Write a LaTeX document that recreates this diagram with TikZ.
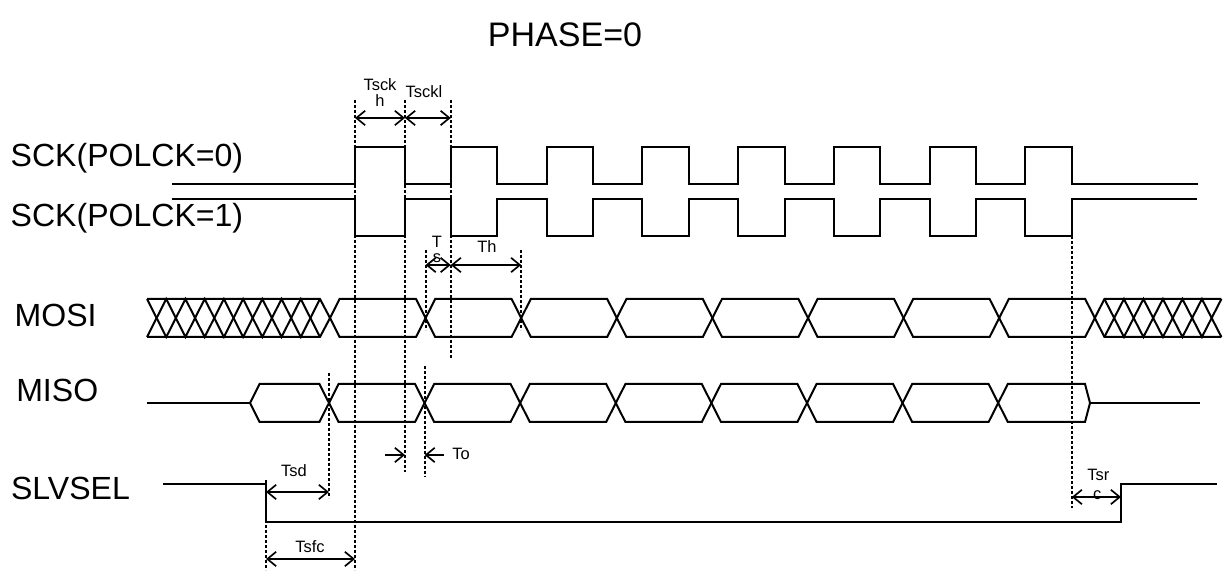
\documentclass[tikz,border=0pt]{standalone}
\usepackage{fontspec}
\setmainfont{Liberation Sans}
\usetikzlibrary{arrows.meta}
\tikzset{
  tbarb/.tip={Straight Barb[length=0.22cm,width=0.36cm]},
  signal/.style={line width=0.05cm},
  guide/.style={line width=0.045cm, dash pattern=on 0.075cm off 0.05cm},
  dimline/.style={line width=0.042cm, tbarb-tbarb},
  dimhalf/.style={line width=0.042cm, -tbarb},
  bigtext/.style={inner sep=0pt, font=\fontsize{22.8pt}{26pt}\selectfont},
  smalltext/.style={inner sep=0pt, font=\fontsize{11.7pt}{14pt}\selectfont},
}
\begin{document}
\begin{tikzpicture}
\useasboundingbox (0,0) rectangle (30.6,14.375);

% Marking title
\draw (14.125,13.2) node (title) [anchor=base, inner sep=0pt, font=\fontsize{24.2pt}{28pt}\selectfont] {PHASE=0};%

% Marking signal names
\draw (0.26,10.2) node (sckzero) [bigtext, anchor=base west] {SCK(POLCK=0)};%
\draw (0.26,8.7) node (sckone) [bigtext, anchor=base west] {SCK(POLCK=1)};%
\draw (0.36,6.2) node (mosi) [bigtext, anchor=base west] {MOSI};%
\draw (0.40,4.325) node (miso) [bigtext, anchor=base west] {MISO};%
\draw (0.27,1.875) node (slvsel) [bigtext, anchor=base west] {SLVSEL};%

% Drawing signal SCK(POLCK=0)
\draw [signal] (4.3,9.775) -| (8.875,10.7) -| (10.125,9.775) -| (11.269,10.7) -| (12.431,9.775)
  -| (13.663,10.7) -| (14.825,9.775) -| (16.057,10.7) -| (17.219,9.775)
  -| (18.451,10.7) -| (19.613,9.775) -| (20.845,10.7) -| (22.007,9.775)
  -| (23.239,10.7) -| (24.401,9.775) -| (25.633,10.7) -| (26.794,9.775) -- (29.95,9.775);%

% Drawing signal SCK(POLCK=1)
\draw [signal] (4.3,9.4) -| (8.875,8.475) -| (10.125,9.4) -| (11.269,8.475) -| (12.431,9.4)
  -| (13.663,8.475) -| (14.825,9.4) -| (16.057,8.475) -| (17.219,9.4)
  -| (18.451,8.475) -| (19.613,9.4) -| (20.845,8.475) -| (22.007,9.4)
  -| (23.239,8.475) -| (24.401,9.4) -| (25.633,8.475) -| (26.794,9.4) -- (29.925,9.4);%

% Drawing MOSI hatch (left)
\draw [signal] (3.675,6.9) -- (8.0,6.9) -- (8.25,6.425) -- (8.0,5.95) -- (3.675,5.95);%
\draw [signal] (3.675,6.9) -- (4.156,5.95) -- (4.636,6.9) -- (5.117,5.95) -- (5.597,6.9) -- (6.078,5.95) -- (6.558,6.9) -- (7.039,5.95) -- (7.519,6.9) -- (8.0,5.95);%
\draw [signal] (3.675,5.95) -- (4.156,6.9) -- (4.636,5.95) -- (5.117,6.9) -- (5.597,5.95) -- (6.078,6.9) -- (6.558,5.95) -- (7.039,6.9) -- (7.519,5.95) -- (8.0,6.9);%

% Drawing MOSI data cells
\draw [signal] (8.25,6.425) -- (8.49,6.9) -- (10.40,6.9) -- (10.64,6.425) -- (10.40,5.95) -- (8.49,5.95) -- cycle;%
\draw [signal] (10.64,6.425) -- (10.88,6.9) -- (12.79,6.9) -- (13.03,6.425) -- (12.79,5.95) -- (10.88,5.95) -- cycle;%
\draw [signal] (13.03,6.425) -- (13.27,6.9) -- (15.18,6.9) -- (15.42,6.425) -- (15.18,5.95) -- (13.27,5.95) -- cycle;%
\draw [signal] (15.42,6.425) -- (15.66,6.9) -- (17.57,6.9) -- (17.81,6.425) -- (17.57,5.95) -- (15.66,5.95) -- cycle;%
\draw [signal] (17.81,6.425) -- (18.05,6.9) -- (19.96,6.9) -- (20.20,6.425) -- (19.96,5.95) -- (18.05,5.95) -- cycle;%
\draw [signal] (20.20,6.425) -- (20.44,6.9) -- (22.35,6.9) -- (22.59,6.425) -- (22.35,5.95) -- (20.44,5.95) -- cycle;%
\draw [signal] (22.59,6.425) -- (22.83,6.9) -- (24.74,6.9) -- (24.98,6.425) -- (24.74,5.95) -- (22.83,5.95) -- cycle;%
\draw [signal] (24.98,6.425) -- (25.22,6.9) -- (27.13,6.9) -- (27.37,6.425) -- (27.13,5.95) -- (25.22,5.95) -- cycle;%

% Drawing MOSI hatch (right)
\draw [signal] (30.535,6.9) -- (27.61,6.9) -- (27.37,6.425) -- (27.61,5.95) -- (30.535,5.95);%
\draw [signal] (27.61,6.9) -- (28.098,5.95) -- (28.585,6.9) -- (29.073,5.95) -- (29.56,6.9) -- (30.048,5.95) -- (30.535,6.9);%
\draw [signal] (27.61,5.95) -- (28.098,6.9) -- (28.585,5.95) -- (29.073,6.9) -- (29.56,5.95) -- (30.048,6.9) -- (30.535,5.95);%

% Drawing MISO
\draw [signal] (3.675,4.3) -- (6.25,4.3);%
\draw [signal] (6.25,4.3) -- (6.49,4.775) -- (7.985,4.775) -- (8.225,4.3) -- (7.985,3.825) -- (6.49,3.825) -- cycle;%
\draw [signal] (8.225,4.3) -- (8.465,4.775) -- (10.375,4.775) -- (10.615,4.3) -- (10.375,3.825) -- (8.465,3.825) -- cycle;%
\draw [signal] (10.615,4.3) -- (10.855,4.775) -- (12.765,4.775) -- (13.005,4.3) -- (12.765,3.825) -- (10.855,3.825) -- cycle;%
\draw [signal] (13.005,4.3) -- (13.245,4.775) -- (15.155,4.775) -- (15.395,4.3) -- (15.155,3.825) -- (13.245,3.825) -- cycle;%
\draw [signal] (15.395,4.3) -- (15.635,4.775) -- (17.545,4.775) -- (17.785,4.3) -- (17.545,3.825) -- (15.635,3.825) -- cycle;%
\draw [signal] (17.785,4.3) -- (18.025,4.775) -- (19.935,4.775) -- (20.175,4.3) -- (19.935,3.825) -- (18.025,3.825) -- cycle;%
\draw [signal] (20.175,4.3) -- (20.415,4.775) -- (22.325,4.775) -- (22.565,4.3) -- (22.325,3.825) -- (20.415,3.825) -- cycle;%
\draw [signal] (22.565,4.3) -- (22.805,4.775) -- (24.715,4.775) -- (24.955,4.3) -- (24.715,3.825) -- (22.805,3.825) -- cycle;%
\draw [signal] (24.955,4.3) -- (25.195,4.775) -- (27.125,4.775) -- (27.25,4.3) -- (27.125,3.825) -- (25.195,3.825) -- cycle;%
\draw [signal] (27.25,4.3) -- (30.0,4.3);%

% Drawing SLVSEL
\draw [signal] (4.075,2.275) -| (6.65,1.325) -| (28.025,2.275) -- (30.425,2.275);%

% Drawing guide lines
\draw [guide] (8.875,11.875) -- (8.875,0.125);%
\draw [guide] (10.125,11.875) -- (10.125,2.575);%
\draw [guide] (11.269,11.875) -- (11.269,5.425);%
\draw [guide] (10.64,8.125) -- (10.64,6.125);%
\draw [guide] (13.03,8.125) -- (13.03,6.125);%
\draw [guide] (10.615,5.225) -- (10.615,2.45);%
\draw [guide] (8.225,5.05) -- (8.225,1.925);%
\draw [guide] (6.65,2.375) -- (6.65,0.125);%
\draw [guide] (26.794,8.475) -- (26.794,1.675);%

% Drawing Tsckh and Tsckl
\draw [dimline] (8.875,11.425) -- (10.125,11.425);%
\draw [dimline] (10.125,11.425) -- (11.269,11.425);%
\draw (9.5,12.1) node (tsck) [smalltext, anchor=base] {Tsck};%
\draw (9.5,11.7) node (tsckh) [smalltext, anchor=base] {h};%
\draw (10.6,11.925) node (tsckl) [smalltext, anchor=base] {Tsckl};%

% Drawing Ts and Th
\draw [dimline] (10.64,7.75) -- (11.269,7.75);%
\draw [dimline] (11.269,7.75) -- (13.03,7.75);%
\draw (10.925,8.175) node (tst) [smalltext, anchor=base] {T};%
\draw (10.925,7.8) node (tss) [smalltext, anchor=base] {s};%
\draw (12.175,8.05) node (th) [smalltext, anchor=base] {Th};%

% Drawing To
\draw [dimhalf] (9.625,3.0) -- (10.125,3.0);%
\draw [dimhalf] (11.1,3.0) -- (10.615,3.0);%
\draw (11.3,2.875) node (to) [smalltext, anchor=base west] {To};%

% Drawing Tsd and Tsfc
\draw [dimline] (6.65,2.075) -- (8.225,2.075);%
\draw (7.35,2.45) node (tsd) [smalltext, anchor=base] {Tsd};%
\draw [dimline] (6.65,0.4) -- (8.875,0.4);%
\draw (7.75,0.575) node (tsfc) [smalltext, anchor=base] {Tsfc};%

% Drawing Tsrc
\draw [dimline] (26.794,1.95) -- (28.025,1.95);%
\draw (27.46,2.35) node (tsr) [smalltext, anchor=base] {Tsr};%
\draw (27.43,1.875) node (tsrc) [smalltext, anchor=base] {c};%
\end{tikzpicture}
\end{document}
